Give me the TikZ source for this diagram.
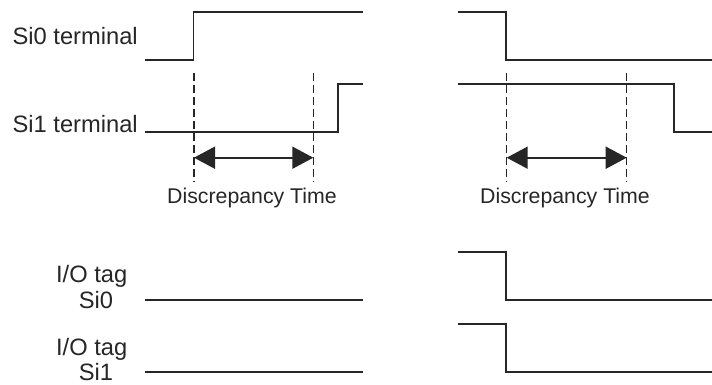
\documentclass[tikz,border=0pt]{standalone}
\usepackage{fontspec}
\setmainfont{Liberation Sans}
\usetikzlibrary{arrows.meta}
\begin{document}
\begin{tikzpicture}[x=1pt,y=-1pt,
  wave/.style={line width=1.8pt,line join=miter,color=black!85},
  guide/.style={line width=1.1pt,dash pattern=on 8pt off 4pt,color=black!85},
  span/.style={line width=1.8pt,color=black!85,{Triangle[length=21pt,width=22pt]}-{Triangle[length=21pt,width=22pt]}},
  lbl/.style={font=\fontsize{23.7}{28}\selectfont,inner sep=0pt,text=black!85},
  dlbl/.style={font=\fontsize{21.3}{25}\selectfont,inner sep=0pt,text=black!85}]
\useasboundingbox (0,0) rectangle (712,385);
% labels
\node[lbl,anchor=base east] (l0) at (138,45) {Si0 terminal};
\node[lbl,anchor=base east] (l1) at (138,132) {Si1 terminal};
\node[lbl,anchor=base] (t0) at (91.7,282) {I/O tag};
\node[lbl,anchor=base] (s0) at (96,308) {Si0};
\node[lbl,anchor=base] (t1) at (91.7,355) {I/O tag};
\node[lbl,anchor=base] (s1) at (96,380) {Si1};
\node[dlbl,anchor=base] (d0) at (252,203) {Discrepancy Time};
\node[dlbl,anchor=base] (d1) at (565,203) {Discrepancy Time};
% left waveforms
\draw[wave] (145,60) -- (193.5,60) -- (193.5,11.7) -- (362.7,11.7);
\draw[wave] (145,132) -- (338.3,132) -- (338.3,83.7) -- (362.7,83.7);
\draw[wave] (145,300) -- (362.7,300);
\draw[wave] (145,372.3) -- (362.7,372.3);
% right waveforms
\draw[wave] (457.5,11.7) -- (506,11.7) -- (506,60) -- (713,60);
\draw[wave] (457.5,83.7) -- (674.3,83.7) -- (674.3,132) -- (713,132);
\draw[wave] (458.3,252) -- (506,252) -- (506,300) -- (713,300);
\draw[wave] (458.3,324.3) -- (506,324.3) -- (506,372.3) -- (713,372.3);
% guides
\coordinate (a0t) at (194,73); \coordinate (a0b) at (194,182);
\coordinate (b0t) at (313.3,73); \coordinate (b0b) at (313.3,182);
\coordinate (a1t) at (506.7,73); \coordinate (a1b) at (506.7,182);
\coordinate (b1t) at (626.7,73); \coordinate (b1b) at (626.7,182);
\draw[guide] (a0t) -- (a0b);
\draw[guide] (b0t) -- (b0b);
\draw[guide] (a1t) -- (a1b);
\draw[guide] (b1t) -- (b1b);
\coordinate (p0) at (194,157.7); \coordinate (q0) at (313.3,157.7);
\coordinate (p1) at (506.7,157.7); \coordinate (q1) at (626.7,157.7);
\draw[span] (p0) -- (q0);
\draw[span] (p1) -- (q1);
\end{tikzpicture}
\end{document}
